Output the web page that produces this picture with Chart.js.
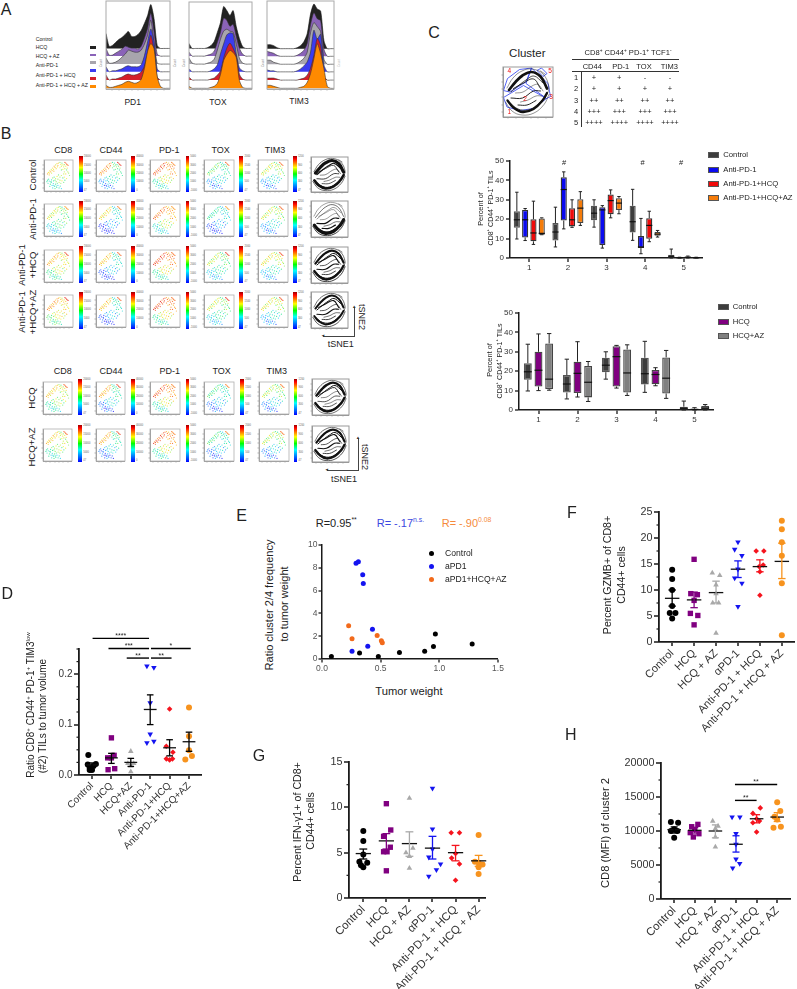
<!DOCTYPE html>
<html>
<head>
<meta charset="utf-8">
<style>
  html, body { margin: 0; padding: 0; background: #fff; }
  #page { position: relative; width: 797px; height: 989px; overflow: hidden; font-family: "Liberation Sans", Arial, sans-serif; color: #222; }
  #page canvas { position: absolute; }
  .t { position: absolute; white-space: nowrap; line-height: 1; }
  .t sup { font-size: 62%; line-height: 0; }
  .bar { position: absolute; background: linear-gradient(to top, #00f 0%, #0ff 33%, #0f0 50%, #ff0 68%, #f00 92%, #900 100%); }
  .ln { position: absolute; background: #333; }
</style>
<script src="https://cdn.jsdelivr.net/npm/chart.js@4"></script>
</head>
<body>
<div id="page"></div>
<script>
// panel A
const histLabels = ['Control', 'HCQ', 'HCQ + AZ', 'Anti-PD-1', 'Anti-PD-1 + HCQ', 'Anti-PD-1 + HCQ + AZ'];
const histColors = ['#222222', '#8a63b8', '#a8a5ad', '#3b3bf0', '#d4202a', '#ff8a00'];
const pd1Hist = [
  [15, 2, 3, 6, 9, 11, 14, 17, 12, 12, 14, 18, 25, 33, 44, 30, 3, 0, 0, 0, 0],
  [8, 1, 1, 3, 5, 7, 10, 9, 8, 8, 7, 10, 18, 28, 43, 25, 2, 0, 0, 0, 0],
  [6, 1, 1, 2, 4, 7, 10, 14, 13, 12, 12, 14, 20, 29, 44, 21, 1, 0, 0, 0, 0],
  [5, 0, 1, 1, 2, 3, 5, 6, 5, 5, 5, 7, 16, 30, 43, 30, 3, 0, 0, 0, 0],
  [5, 0, 1, 1, 2, 3, 5, 6, 5, 5, 6, 8, 14, 28, 45, 30, 3, 0, 0, 0, 0],
  [3, 1, 1, 2, 3, 4, 6, 7, 6, 5, 6, 9, 20, 37, 45, 40, 12, 2, 0, 0, 0]
];
const toxHist = [
  [5, 0, 0, 0, 0, 0, 1, 3, 7, 16, 26, 42, 38, 33, 38, 22, 10, 2, 0, 0, 0],
  [4, 0, 0, 0, 0, 0, 1, 2, 5, 14, 24, 38, 36, 30, 32, 20, 8, 2, 0, 0, 0],
  [6, 1, 0, 0, 0, 0, 1, 2, 5, 14, 25, 33, 35, 33, 32, 20, 6, 1, 0, 0, 0],
  [3, 0, 0, 0, 0, 0, 0, 1, 3, 7, 18, 28, 37, 39, 38, 18, 4, 1, 0, 0, 0],
  [3, 0, 0, 0, 0, 0, 0, 1, 2, 5, 9, 22, 32, 37, 32, 24, 6, 1, 0, 0, 0],
  [2, 0, 0, 0, 0, 0, 0, 1, 2, 5, 14, 28, 34, 38, 36, 31, 8, 1, 0, 0, 0]
];
const tim3Hist = [
  [4, 4, 3, 1, 0, 0, 0, 0, 0, 1, 3, 7, 15, 35, 45, 40, 38, 8, 0, 0, 0],
  [5, 4, 3, 1, 0, 0, 0, 0, 0, 1, 3, 6, 13, 32, 44, 38, 36, 7, 0, 0, 0],
  [4, 4, 2, 1, 0, 0, 0, 0, 0, 1, 3, 6, 12, 32, 42, 38, 33, 5, 0, 0, 0],
  [2, 1, 1, 0, 0, 0, 0, 0, 0, 1, 3, 6, 10, 20, 42, 33, 38, 7, 0, 0, 0],
  [2, 2, 2, 1, 0, 0, 0, 0, 0, 0, 1, 2, 5, 12, 25, 42, 35, 4, 0, 0, 0],
  [3, 3, 2, 1, 0, 0, 0, 0, 0, 0, 1, 2, 6, 15, 30, 45, 35, 20, 2, 0, 0]
];

// panel B, one row per dot: map coordinates, cluster and a per dot shade
const tsneX = [12,15,18,20,23,25,28,30,33,35,38,40,42,45,46,48,18,26,34,50, 55,58,60,62,65,68,70,72,75,78,80,82,85,65,60,70,75,55,88,68, 72,75,78,80,83, 30,35,40,45,50,55,60,65,70,48,38,55,62,72,42,52,68,78,58,33, 10,14,18,22,25,28,12,32,36,40,44,48,52,20,30,38,56,60,16,26,34,46,24,42];
const tsneY = [55,60,58,65,62,70,66,74,70,80,76,84,72,88,78,82,52,58,64,90, 92,86,80,90,84,78,85,72,80,68,74,62,58,70,68,62,55,75,50,55, 92,90,87,85,83, 42,45,40,47,52,45,50,42,45,38,35,35,33,35,30,28,28,40,25,33, 30,25,32,22,28,18,35,24,15,22,12,18,10,15,10,8,16,8,38,36,18,25,30,16];
const tsneCluster = [4,4,4,4,4,4,4,4,4,4,4,4,4,4,4,4,4,4,4,4, 3,3,3,3,3,3,3,3,3,3,3,3,3,3,3,3,3,3,3,3, 5,5,5,5,5, 2,2,2,2,2,2,2,2,2,2,2,2,2,2,2,2,2,2,2,2, 1,1,1,1,1,1,1,1,1,1,1,1,1,1,1,1,1,1,1,1,1,1,1,1];
const tsneShade = [2,-1,1,0,2,-2,1,0,-1,2,1,-2,0,1,-1,2,0,-2,1,0, -1,2,0,-2,1,2,-1,0,1,-2,2,0,-1,1,-2,0,2,1,-1,0, 1,0,2,-1,1, 0,-2,1,2,-1,0,1,-2,2,0,-1,1,2,-2,0,1,-1,2,0,-2, 1,0,-1,2,0,-2,1,-1,0,2,1,-2,0,1,-1,2,0,-2,1,0,-1,2,1,0];
const markerNames = ['CD8', 'CD44', 'PD-1', 'TOX', 'TIM3'];
const markerLevels = [
  [0.32, 0.50, 0.55, 0.66, 0.85],
  [0.12, 0.30, 0.42, 0.78, 0.95],
  [0.32, 0.58, 0.78, 0.88, 0.80],
  [0.12, 0.26, 0.36, 0.45, 0.85],
  [0.12, 0.26, 0.50, 0.55, 0.85]
];
const rowShift = [
  [0, 0, 0, 0, 0],
  [-0.10, -0.15, -0.05, -0.10, 0],
  [0.05, -0.10, 0.03, 0.08, 0.05],
  [0.10, -0.10, 0.03, 0.10, 0.03],
  [0, -0.05, 0, -0.05, -0.03],
  [0, -0.05, 0, -0.05, -0.03]
];
const barTicks = [
  ['20000', '15000', '10000', '5000', '47'],
  ['40000', '30000', '20000', '10000', '0'],
  ['5000', '3000', '2000', '1000', '-1000'],
  ['2000', '1500', '1000', '500', '47'],
  ['1200', '900', '600', '300', '47']
];
const contourPaths = [
  [[12,54],[25,70],[39,83],[57,90],[75,81],[88,57]],
  [[21,57],[39,67],[61,76],[75,57]],
  [[9,33],[21,19],[39,10],[61,16],[79,33],[88,48]],
  [[16,38],[39,38],[61,52],[75,52]],
  [[30,24],[48,24],[66,33]],
  [[75,92],[84,86]],
  [[8,58],[20,78],[38,92],[58,96],[80,86],[92,60],[88,45]],
  [[5,30],[18,12],[38,4],[62,8],[82,25],[92,45]],
  [[25,48],[40,50],[58,62],[70,65],[80,52]],
  [[35,30],[50,34],[66,42],[78,42]],
  [[16,50],[30,62],[46,74],[62,82],[80,68]],
  [[14,28],[30,16],[50,14],[68,24],[84,40]]
];
const contourWidths = [
  [3.2, 0.8, 2.6, 0.8, 0.7, 0.5, 0.6, 0.6, 0.5, 0.5, 1.2, 1],
  [0.6, 0.4, 3.2, 1.2, 1.2, 0.4, 0.4, 0.8, 0.4, 0.6, 0.4, 1.6],
  [2.2, 1.1, 2.4, 1.1, 0.8, 0.5, 0.6, 0.8, 0.7, 0.6, 1, 1],
  [2, 1.1, 2, 1.1, 0.8, 0.5, 0.6, 0.7, 0.7, 0.6, 1, 1],
  [2.4, 0.9, 2.4, 0.7, 0.7, 0.4, 0.6, 0.6, 0.5, 0.5, 1, 0.9],
  [2.2, 1.1, 2.4, 1.1, 0.8, 0.5, 0.6, 0.7, 0.7, 0.6, 1, 1]
];

// panel C
const gatePaths = [
  [[1,53],[9,77],[33,95],[57,98],[46,70],[13,50],[1,53]],
  [[57,98],[90,67],[95,41],[87,37],[46,67],[57,98]],
  [[1,39],[41,63],[87,37],[61,17],[34,13],[8,20],[1,39]],
  [[68,93],[77,98],[88,87],[80,81],[68,93]]
];
const tableCols = ['CD44', 'PD-1', 'TOX', 'TIM3'];
const tableRows = [
  ['+', '+', '-', '-'],
  ['+', '+', '+', '+'],
  ['++', '++', '++', '++'],
  ['+++', '+++', '+++', '+++'],
  ['++++', '++++', '++++', '++++']
];

// box plots, each box is min, q1, median, q3, max
const clusterLabels = ['1', '2', '3', '4', '5'];
const boxControl = [[9.8,15.6,19.7,24.1,33.9],[5.7,9,13.4,18,26.2],[15.9,19.5,23.1,26.9,30],[9.1,13.2,18.7,26.9,35.4],[0,0.3,0.9,1.7,4.6]];
const boxAntiPd1 = [[9,10.6,19.7,24.8,25.5],[15,19.3,35.3,41.6,44.4],[5.1,6.7,24.8,26.2,27],[2.2,5.1,5.7,11.3,20.4],[0,0,0.1,0.3,0.4]];
const boxAntiHcq = [[7,8.6,12.9,20,29.3],[15.8,16.3,19.7,25.7,30],[20.7,22.6,29.6,32.7,35.1],[8.4,9.9,16.8,20.5,24.1],[0,0.1,0.4,0.7,1]];
const boxAntiHcqAz = [[12,12,12.7,20.4,20.7],[16.8,18,25.7,30.3,34.2],[22.8,24.7,28.3,30.8,31.7],[10.8,11.5,12.3,13.4,14.2],[0,0,0.1,0.3,0.4]];
const boxHcq = [[10,12.1,20.5,30,39.2],[6.7,8.7,18.9,24.9,35.2],[11.3,12.1,27.5,32.9,33.3],[12.5,13.3,18.3,20.6,21.8],[0,0.1,0.3,0.7,1.2]];
const boxHcqAz = [[10.2,10.8,15.9,34.3,39.4],[4.4,6.5,14.3,22.7,25],[7.5,9,19.1,31.2,33.6],[6,8.5,16.4,27.1,30.7],[0,0.3,1,2.1,2.8]];

// panel E
const ctrlWeight = [0.08,0.32,0.48,0.66,0.875,0.95,0.966,1.28];
const ctrlRatio = [0.23,0.52,0.23,0.58,0.67,1.1,2.19,1.31];
const apd1Weight = [0.29,0.31,0.347,0.352,0.43,0.39,0.256];
const apd1Ratio = [8.4,8.54,7.4,6.62,2.62,1.11,0.67];
const comboWeight = [0.227,0.256,0.47,0.506,0.514];
const comboRatio = [2.92,1.78,2.07,1.6,1.43];

// dot plots D, F, G, H
const dCats = ['Control', 'HCQ', 'HCQ+AZ', 'Anti-PD-1', 'Anti-PD-1+HCQ', 'Anti-PD-1+HCQ+AZ'];
const dotCats = ['Control', 'HCQ', 'HCQ + AZ', 'αPD-1', 'Anti-PD-1 + HCQ', 'Anti-PD-1 + HCQ + AZ'];
const dValues = [[0.0395,0.022,0.021,0.018,0.0145,0.01,0.01],[0.0737,0.039,0.034,0.034,0.0125,0.0105],[0.047,0.023,0.023,0.018,0.0066],[0.216,0.213,0.143,0.081,0.067,0.064],[0.131,0.057,0.045,0.032,0.03,0.032],[0.134,0.077,0.049,0.0375,0.031]];
const dSpread = [[-0.19,0.2,-0.22,0.08,-0.12,0,-0.12],[0,0.14,-0.19,0,0.17,-0.17],[0,-0.15,0.15,0,0],[-0.17,0.19,0,0,0.19,-0.17],[0,-0.17,0.17,-0.17,0,0.15],[0,0,0,0.15,-0.19]];
const dMean = [0.02,0.034,0.025,0.13,0.054,0.066];
const dLow = [0.016,0.023,0.017,0.1,0.038,0.047];
const dHigh = [0.024,0.043,0.033,0.159,0.07,0.085];
const fValues = [[13.9,12.1,10,6.9,5.6,5.6,4.5],[15.9,9.3,9.1,8,5.5,5.1,3.3],[13.3,12.8,11,9.3,7.5,7.5,1.7],[19.2,17.8,16.6,14,12.3,11.3,6.8],[17.5,17.5,14.8,14.5,13.5,9],[23.3,21.7,19.2,16.6,11.3,1.3]];
const fSpread = [[0,0,0,0,-0.11,0.15,0],[0,-0.15,0.15,0,-0.17,0.17,0],[-0.17,0.17,0,0,-0.15,0.12,0],[0,-0.15,0.18,0,-0.15,0.18,0],[-0.17,0.18,0.15,-0.03,0,0],[0,0,0,0,0,0]];
const fMean = [8.4,8.1,9.5,14,14.5,15.5];
const fLow = [6.9,6.6,7.5,12.4,13.5,12.2];
const fHigh = [10,9.6,11.7,15.6,15.8,19];
const gValues = [[7.4,6.3,4.8,4,3.9,3.6,3.4],[10.4,7.5,6.8,5.6,5.1,5.1,3],[11,5.5,5,4.6,3.3],[12.1,7.6,5.4,4.5,3.75,3.1,2.4],[7.2,7.2,4.9,4.4,3.75,1.95],[6.95,4,3.9,3.7,3.4,2.65]];
const gSpread = [[0,0,0,-0.17,0.17,-0.1,0],[0,0.19,-0.12,0.17,-0.12,0.03,0],[0,0.15,-0.15,0,0],[0,0,0,-0.16,0.35,0.17,-0.16],[-0.19,0.17,0,-0.17,0.17,0],[0,-0.16,0,0.17,0,0]];
const gMean = [4.9,6.3,6,5.5,5,4.1];
const gLow = [4.3,5.4,4.6,4.3,4.1,3.5];
const gHigh = [5.4,7.1,7.3,6.8,5.8,4.7];
const hValues = [[11320,11220,10240,10000,10000,9020],[10975,10630,10240,9760,9600,9120],[11460,10730,10340,9120,7660],[12050,12050,9600,8050,5850,5220,4540],[13400,12590,11800,11460,11220,9850],[14240,12930,12100,11700,10490,10630]];
const hSpread = [[-0.16,0.19,0,-0.16,0.16,0],[0.15,-0.15,0,-0.22,0.2,-0.07],[-0.13,0.13,0,0,0],[-0.19,0.19,0,0,0,0.18,-0.16],[0.18,-0.18,0,0.14,-0.18,0],[0,0.15,-0.13,0,-0.18,0.18]];
const hMean = [10200,10100,10000,8050,11800,12050];
const hLow = [9700,9700,9000,6900,11200,11400];
const hHigh = [10600,10500,10900,9300,12400,12700];
const dSig = [[0.03,2.94,0.271,'****'],[0.85,2.94,0.251,'***'],[3.04,5.09,0.251,'*'],[1.79,2.94,0.232,'**'],[3.04,4.1,0.232,'**']];
const hSig = [[2.95,5,16830,'**'],[2.95,4,14500,'**']];

const page = document.getElementById('page');
const ink = '#1a1a1a';
const dotColors = ['#000000', '#800080', '#a9a9a9', '#1414f0', '#f5141e', '#f7931e'];
const dotStyles = [
  { pointStyle: 'circle', radius: 3 },
  { pointStyle: 'rect', radius: 3.8 },
  { pointStyle: 'triangle', radius: 3.2 },
  { pointStyle: 'triangle', radius: 3.2, rotation: 180 },
  { pointStyle: 'rectRot', radius: 2.8 },
  { pointStyle: 'circle', radius: 3 }
];

function txt(html, x, y, size, opts = {}) {
  const d = document.createElement('div');
  d.className = 't';
  d.innerHTML = html;
  d.style.left = x + 'px';
  d.style.top = y + 'px';
  d.style.fontSize = size + 'px';
  if (opts.color) d.style.color = opts.color;
  const ax = opts.left ? '0' : '-50%';
  d.style.transform = `translate(${ax},-50%) rotate(${opts.rot || 0}deg)`;
  page.appendChild(d);
}

function rule(x, y, w, h, color) {
  const d = document.createElement('div');
  d.className = 'ln';
  d.style.cssText = `left:${x}px;top:${y}px;width:${w}px;height:${h}px;` + (color ? `background:${color}` : '');
  page.appendChild(d);
}

function swatch(x, y, w, h, fill, border) {
  const d = document.createElement('div');
  d.className = 'ln';
  d.style.cssText = `left:${x}px;top:${y}px;width:${w}px;height:${h}px;background:${fill};box-sizing:border-box;border:1px solid ${border || fill}`;
  page.appendChild(d);
}

// extra drawing on top of a chart: minor ticks, significance bars, box whiskers, frame
function extras(o) {
  return {
    id: 'extras',
    afterDatasetsDraw(chart) {
      const ctx = chart.ctx, xs = chart.scales.x, ys = chart.scales.y;
      ctx.save();
      if (o.frame) {
        const a = chart.chartArea;
        ctx.strokeStyle = o.frame;
        ctx.lineWidth = o.frameWidth || 1;
        ctx.strokeRect(a.left, a.top, a.right - a.left, a.bottom - a.top);
      }
      if (o.minor) {
        ctx.strokeStyle = ink;
        ctx.lineWidth = 1.2;
        o.minor.forEach(v => {
          const p = ys.getPixelForValue(v);
          ctx.beginPath();
          ctx.moveTo(xs.left - 2.5, p);
          ctx.lineTo(xs.left, p);
          ctx.stroke();
        });
      }
      if (o.sig) {
        o.sig.forEach(s => {
          const a = xs.getPixelForValue(s[0]), b = xs.getPixelForValue(s[1]), p = ys.getPixelForValue(s[2]);
          ctx.strokeStyle = '#000';
          ctx.lineWidth = 1.4;
          ctx.beginPath();
          ctx.moveTo(a, p);
          ctx.lineTo(b, p);
          ctx.stroke();
          ctx.fillStyle = '#222';
          ctx.font = '7px "Liberation Sans"';
          ctx.textAlign = 'center';
          ctx.fillText(s[3], (a + b) / 2, p - 0.5);
        });
      }
      if (o.boxes) {
        chart.data.datasets.forEach((ds, i) => {
          chart.getDatasetMeta(i).data.forEach((el, j) => {
            const st = ds.stats[j];
            const hw = el.width / 2, cap = hw * 0.55;
            ctx.strokeStyle = '#222';
            ctx.lineWidth = 1;
            ctx.beginPath();
            [[st[0], st[1]], [st[3], st[4]]].forEach(pair => {
              const p0 = ys.getPixelForValue(pair[0]), p1 = ys.getPixelForValue(pair[1]);
              ctx.moveTo(el.x, p0);
              ctx.lineTo(el.x, p1);
            });
            [st[0], st[4]].forEach(v => {
              const p = ys.getPixelForValue(v);
              ctx.moveTo(el.x - cap, p);
              ctx.lineTo(el.x + cap, p);
            });
            ctx.stroke();
            ctx.lineWidth = 1.2;
            ctx.strokeStyle = '#111';
            const m = ys.getPixelForValue(st[2]);
            ctx.beginPath();
            ctx.moveTo(el.x - hw, m);
            ctx.lineTo(el.x + hw, m);
            ctx.stroke();
          });
        });
      }
      ctx.restore();
    }
  };
}

// canvas sized so that the plot area lands exactly on the box x0,y0,x1,y1
function makeChart(box, pad, config, extra) {
  const [x0, y0, x1, y1] = box;
  const c = document.createElement('canvas');
  c.width = x1 - x0 + pad.l + pad.r;
  c.height = y1 - y0 + pad.t + pad.b;
  c.style.left = (x0 - pad.l) + 'px';
  c.style.top = (y0 - pad.t) + 'px';
  page.appendChild(c);
  config.options = config.options || {};
  const opt = config.options;
  opt.responsive = false;
  opt.animation = false;
  opt.layout = { padding: { top: pad.t, right: pad.r, left: 0, bottom: 0 } };
  opt.plugins = Object.assign({ legend: { display: false }, tooltip: { enabled: false } }, opt.plugins || {});
  const xa = opt.scales.x, ya = opt.scales.y;
  xa.afterFit = s => { s.height = pad.b; s.paddingLeft = s.paddingRight = 0; };
  ya.afterFit = s => { s.width = pad.l; s.paddingTop = s.paddingBottom = 0; };
  config.plugins = [extras(extra || {})];
  return new Chart(c.getContext('2d'), config);
}

function ticksAt(values) {
  return s => { s.ticks = values.map(v => ({ value: v })); };
}

// thin grey axes used by the histogram and map panels
function thinAxis(min, max, values, color) {
  return {
    type: 'linear', min, max,
    afterBuildTicks: ticksAt(values),
    ticks: { display: false },
    border: { color: color, width: 1 },
    grid: { drawOnChartArea: false, tickLength: 1.5, tickWidth: 0.6, tickColor: '#777', lineWidth: 0 }
  };
}

// panel A
const binPos = pd1Hist[0].map((_, i) => i);
const ridgeBase = [40.7, 33, 25, 17.3, 9, 0.7];
function ridgeChart(box, hist) {
  const datasets = hist.map((vals, i) => ({
    data: vals.map((v, j) => ({ x: binPos[j], y: ridgeBase[i] + v })),
    showLine: true,
    pointRadius: 0,
    tension: 0.25,
    borderColor: i === 0 ? '#111' : '#333',
    borderWidth: 0.6,
    backgroundColor: histColors[i],
    fill: { value: ridgeBase[i] },
    order: hist.length - i
  }));
  makeChart(box, { l: 1, r: 1, t: 1, b: 3 }, {
    type: 'scatter',
    data: { datasets },
    options: { scales: {
      x: thinAxis(0, 20, [2, 4, 6, 8, 10, 12, 14, 16, 18], '#aaa'),
      y: { type: 'linear', min: 0, max: box[3] - box[1], display: false }
    } }
  }, { frame: '#aaa', frameWidth: 1 });
}
ridgeChart([105.7, 1, 170.7, 89.3], pd1Hist);
ridgeChart([189, 2, 252.3, 89.3], toxHist);
ridgeChart([267.3, 0.5, 334.7, 89.3], tim3Hist);

const histLabelY = [40, 48.3, 56.7, 65.7, 76, 86];
const histSwatchY = [47.3, 55, 62.7, 70.7, 78.3, 86.7];
histLabels.forEach((name, i) => {
  txt(name, 35.7, histLabelY[i], 5.2, { left: true });
  swatch(90, histSwatchY[i] - 1.3, 6, 2.8, histColors[i]);
});
txt('Count', 100.5, 63, 3, { rot: -90, color: '#888' });
txt('Count', 175, 63, 3, { rot: -90, color: '#888' });
txt('Count', 184, 63, 3, { rot: -90, color: '#888' });
txt('Count', 262.5, 63, 3, { rot: -90, color: '#888' });
txt('Count', 339, 63, 3, { rot: -90, color: '#bbb' });
txt('PD1', 132.7, 101.7, 8.5);
txt('TOX', 218, 102, 8.5);
txt('TIM3', 299, 100.7, 8.5);

// panel B
function jet(v) {
  const t = Math.max(0, Math.min(1, v));
  const stops = [[0, 0, 255], [0, 200, 255], [0, 230, 120], [240, 240, 0], [255, 130, 0], [225, 0, 0]];
  const p = t * (stops.length - 1), i = Math.min(stops.length - 2, Math.floor(p)), f = p - i;
  const c = stops[i].map((a, k) => Math.round(a + (stops[i + 1][k] - a) * f));
  return `rgba(${c[0]},${c[1]},${c[2]},0.7)`;
}

const mapTicks = [10, 25, 40, 55, 70, 85];
function mapAxes() {
  return {
    x: thinAxis(0, 100, mapTicks, '#999'),
    y: thinAxis(0, 100, mapTicks, '#999')
  };
}

function mapPanel(box, row, marker) {
  const levels = markerLevels[marker];
  const colors = tsneX.map((_, i) => jet(levels[tsneCluster[i] - 1] + rowShift[row][marker] + tsneShade[i] * 0.05));
  makeChart(box, { l: 2, r: 1, t: 1, b: 3 }, {
    type: 'scatter',
    data: { datasets: [{
      data: tsneX.map((x, i) => ({ x, y: tsneY[i] })),
      pointRadius: 0.62,
      pointBorderWidth: 0,
      pointBackgroundColor: colors
    }] },
    options: { scales: mapAxes() }
  }, { frame: '#b0b0b0', frameWidth: 0.8 });
}

function contourDatasets(widths, scaleW) {
  return contourPaths.map((path, k) => ({
    data: path.map(p => ({ x: p[0], y: p[1] })),
    showLine: true,
    pointRadius: 0,
    tension: 0.4,
    borderColor: '#111',
    borderWidth: widths[k] * scaleW,
    borderCapStyle: 'round'
  }));
}

function contourPanel(box, row) {
  makeChart(box, { l: 2, r: 1, t: 1, b: 3 }, {
    type: 'scatter',
    data: { datasets: contourDatasets(contourWidths[row], 1) },
    options: { scales: mapAxes() }
  }, { frame: '#999', frameWidth: 1 });
}

function colorBar(x0, x1, y0, y1, marker) {
  const d = document.createElement('div');
  d.className = 'bar';
  d.style.cssText = `left:${x0}px;top:${y0}px;width:${x1 - x0}px;height:${y1 - y0}px`;
  page.appendChild(d);
  barTicks[marker].forEach((lab, i) => {
    txt(lab, x1 + 1.2, y0 + 1 + (y1 - y0 - 2) * i / 4, 2.6, { left: true, color: '#666' });
  });
}

const upperCols = [[41.7, 76], [94.3, 129.3], [147.7, 182.7], [201.7, 237.3], [256, 291]];
const upperBars = [[78.5, 82.5], [131, 135], [185.7, 189], [239.3, 243.3], [293.3, 296.7]];
const upperRows = [[156.7, 191.7], [201, 237.3], [246.7, 283.3], [292.3, 329]];
const lowerCols = [[40.7, 75], [94, 128.7], [148.3, 183.3], [202.3, 237.3], [256.7, 291.7]];
const lowerBars = [[77.7, 82], [130.7, 134.7], [185.7, 189], [240, 244], [293.7, 297.3]];
const lowerRows = [[379, 415], [425.7, 462.3]];

upperRows.forEach((r, row) => {
  upperCols.forEach((c, m) => {
    mapPanel([c[0], r[0], c[1], r[1]], row, m);
    colorBar(upperBars[m][0], upperBars[m][1], r[0] - 0.5, r[1], m);
  });
  contourPanel([310.7, r[0], 347.7, r[1]], row);
});
lowerRows.forEach((r, row) => {
  lowerCols.forEach((c, m) => {
    mapPanel([c[0], r[0], c[1], r[1]], row + 4, m);
    colorBar(lowerBars[m][0], lowerBars[m][1], r[0] - 0.5, r[1], m);
  });
  contourPanel([312, r[0], 349, r[1]], row + 4);
});

[63.3, 111, 169.3, 220.7, 275].forEach((x, i) => txt(markerNames[i], x, 150, 9));
[62.7, 111, 169.7, 221.7, 276.7].forEach((x, i) => txt(markerNames[i], x, 371, 9));
txt('Control', 33.3, 175, 9.6, { rot: -90 });
txt('Anti-PD-1', 33.3, 219.3, 9.6, { rot: -90 });
txt('Anti-PD-1', 22.3, 265, 9.6, { rot: -90 });
txt('+HCQ', 33.3, 265, 9.6, { rot: -90 });
txt('Anti-PD-1', 22.3, 311.7, 9.6, { rot: -90 });
txt('+HCQ+AZ', 33.3, 311.7, 9.6, { rot: -90 });
txt('HCQ', 32, 397.7, 9.6, { rot: -90 });
txt('HCQ+AZ', 32, 446.7, 9.6, { rot: -90 });

function tsneArrows(cx, cy, left, up) {
  rule(left, cy, cx - left, 0.8, '#444');
  rule(cx, up, 0.8, cy - up + 0.8, '#444');
  txt('◄', left, cy + 0.2, 4.5, { color: '#333' });
  txt('▲', cx + 0.3, up, 4.5, { color: '#333' });
}
tsneArrows(354, 336, 323, 306.7);
txt('tSNE1', 340.7, 344.3, 9);
txt('tSNE2', 360.7, 316.7, 9, { rot: 90 });
tsneArrows(357.7, 470, 326.7, 438.3);
txt('tSNE1', 344, 479, 9);
txt('tSNE2', 364, 456.7, 9, { rot: 90 });

// panel C
txt('Cluster', 527.3, 54.3, 11.5);
makeChart([502.7, 66.7, 553.3, 116.7], { l: 3, r: 1, t: 1, b: 3 }, {
  type: 'scatter',
  data: { datasets: contourDatasets([3, 1, 2.6, 1, 1, 0.5, 0.5, 0.5, 0.5, 0.5, 0.8, 0.8], 0.9).concat(gatePaths.map(path => ({
    data: path.map(p => ({ x: p[0], y: p[1] })),
    showLine: true,
    pointRadius: 0,
    borderColor: '#2a3cf0',
    borderWidth: 0.8
  }))) },
  options: { scales: mapAxes() }
}, { frame: '#999', frameWidth: 1 });
const gateNames = [['4', 509.3, 70.7], ['5', 550, 70.7], ['2', 525, 99.3], ['3', 551, 97.3], ['1', 509.3, 111.7]];
gateNames.forEach(g => txt(g[0], g[1], g[2], 6.5, { color: '#f01010' }));

txt('CD8<sup>+</sup> CD44<sup>+</sup> PD-1<sup>+</sup> TCF1<sup>-</sup>', 628, 52.7, 7.6);
rule(571.7, 59, 107.6, 0.9);
rule(571.7, 71.3, 107.6, 1);
rule(581, 71.7, 0.9, 55);
const tableColX = [592.3, 620.7, 644, 669.3];
const tableCellX = [594, 619.3, 645, 670];
const tableRowY = [78.3, 88.7, 101, 111.7, 122.7];
tableCols.forEach((name, i) => txt(name, tableColX[i], 66.7, 7.5));
tableRows.forEach((cells, r) => {
  txt(String(r + 1), 576, tableRowY[r], 7.5);
  cells.forEach((mark, c) => txt(mark, tableCellX[c], tableRowY[r], 7.5));
});

// box plots
function boxChart(box, series) {
  const datasets = series.map(s => ({
    data: s.stats.map(st => [st[1], st[3]]),
    stats: s.stats,
    backgroundColor: s.fill,
    borderColor: s.edge,
    borderWidth: 1.3,
    borderSkipped: false,
    categoryPercentage: s.cat,
    barPercentage: 0.74
  }));
  makeChart(box, { l: 25, r: 4, t: 4, b: 18 }, {
    type: 'bar',
    data: { labels: clusterLabels, datasets },
    options: { scales: {
      x: {
        type: 'category',
        ticks: { font: { size: 8, family: 'Liberation Sans' }, color: '#333', padding: 1, maxRotation: 0 },
        border: { color: ink, width: 1.5 },
        grid: { drawOnChartArea: false, tickLength: 4, tickWidth: 1.3, tickColor: ink, lineWidth: 0, offset: false }
      },
      y: {
        type: 'linear', min: 0, max: 50,
        afterBuildTicks: ticksAt([0, 10, 20, 30, 40, 50]),
        ticks: { font: { size: 8, family: 'Liberation Sans' }, color: '#333', padding: 2 },
        border: { color: ink, width: 1.5 },
        grid: { drawOnChartArea: false, tickLength: 4, tickWidth: 1.3, tickColor: ink, lineWidth: 0 }
      }
    } }
  }, { boxes: true });
}

const fillControl = '#3d3d3d', edgeControl = '#555555';
boxChart([510, 161, 703.6, 258.3], [
  { stats: boxControl, fill: fillControl, edge: edgeControl, cat: 0.86 },
  { stats: boxAntiPd1, fill: '#0a0af0', edge: '#333', cat: 0.86 },
  { stats: boxAntiHcq, fill: '#f00a0a', edge: '#333', cat: 0.86 },
  { stats: boxAntiHcqAz, fill: '#f57c0a', edge: '#444', cat: 0.86 }
]);
boxChart([519, 312.7, 714.2, 410.3], [
  { stats: boxControl, fill: fillControl, edge: edgeControl, cat: 0.82 },
  { stats: boxHcq, fill: '#800080', edge: '#444', cat: 0.82 },
  { stats: boxHcqAz, fill: '#808080', edge: '#444', cat: 0.82 }
]);
[564, 642.7, 681].forEach(x => txt('#', x, 163.3, 7.5));

const legend1 = [['Control', fillControl, 155], ['Anti-PD-1', '#0a0af0', 170.3], ['Anti-PD-1+HCQ', '#f00a0a', 184], ['Anti-PD-1+HCQ+AZ', '#f57c0a', 197.7]];
legend1.forEach(l => {
  swatch(708.3, l[2] - 3.2, 11, 6.4, l[1], '#555');
  txt(l[0], 723.3, l[2], 7.7, { left: true });
});
const legend2 = [['Control', fillControl, 306.7], ['HCQ', '#800080', 321.7], ['HCQ+AZ', '#808080', 336]];
legend2.forEach(l => {
  swatch(717.7, l[2] - 3.2, 11, 6.4, l[1], '#555');
  txt(l[0], 732.7, l[2], 7.7, { left: true });
});
const tilsTitle = 'CD8<sup>+</sup> CD44<sup>+</sup> PD-1<sup>+</sup> TILs';
txt('Percent of', 480.7, 209, 7.4, { rot: -90 });
txt(tilsTitle, 490, 208, 7, { rot: -90 });
txt('Percent of', 490, 360, 7.4, { rot: -90 });
txt(tilsTitle, 499.3, 361, 7, { rot: -90 });

// panel E
const scatterFont = { size: 8.5, family: 'Liberation Sans' };
function eSeries(xs, ys, color) {
  return { data: xs.map((x, i) => ({ x, y: ys[i] })), pointRadius: 2.5, pointBorderWidth: 0, pointBackgroundColor: color, clip: false };
}
makeChart([322.3, 545, 498.3, 659.3], { l: 25, r: 8, t: 4, b: 16 }, {
  type: 'scatter',
  data: { datasets: [
    eSeries(ctrlWeight, ctrlRatio, '#000000'),
    eSeries(apd1Weight, apd1Ratio, '#1414f0'),
    eSeries(comboWeight, comboRatio, '#f26a1b')
  ] },
  options: { scales: {
    x: {
      type: 'linear', min: 0, max: 1.5,
      afterBuildTicks: ticksAt([0, 0.5, 1, 1.5]),
      ticks: { font: scatterFont, color: '#555', padding: 1, maxRotation: 0, callback: v => v.toFixed(1) },
      border: { color: ink, width: 1.5 },
      grid: { drawOnChartArea: false, tickLength: 3.5, tickWidth: 1.3, tickColor: ink, lineWidth: 0 }
    },
    y: {
      type: 'linear', min: 0, max: 10,
      afterBuildTicks: ticksAt([0, 2, 4, 6, 8, 10]),
      ticks: { font: scatterFont, color: '#555', padding: 1 },
      border: { color: ink, width: 1.5 },
      grid: { drawOnChartArea: false, tickLength: 3.5, tickWidth: 1.3, tickColor: ink, lineWidth: 0 }
    }
  } }
});
txt('R=0.95<sup>**</sup>', 315.7, 523, 11, { left: true });
txt('R= -.17<sup>n.s.</sup>', 376.7, 523, 11, { left: true, color: '#3b48e0' });
txt('R= -.90<sup>0.08</sup>', 441.7, 522.5, 11, { left: true, color: '#f58a3c' });
txt('Ratio cluster 2/4 frequency', 269.3, 605, 11, { rot: -90 });
txt('to tumor weight', 284, 604, 11, { rot: -90 });
txt('Tumor weight', 409, 692.3, 11.2);
const eLegend = [['Control', '#000000', 553.3], ['aPD1', '#1414f0', 566], ['aPD1+HCQ+AZ', '#f26a1b', 579]];
eLegend.forEach(l => {
  const d = document.createElement('div');
  d.className = 'ln';
  d.style.cssText = `left:429.2px;top:${l[2] - 2.5}px;width:5px;height:5px;border-radius:50%;background:${l[1]}`;
  page.appendChild(d);
  txt(l[0], 445, l[2], 8.6, { left: true });
});

// dot plots with mean and SEM
const meanHalf = 0.33, capHalf = 0.17;
function dotChart(spec) {
  const datasets = [];
  spec.values.forEach((vals, i) => {
    const st = dotStyles[i];
    datasets.push({
      data: vals.map((v, k) => ({ x: i + spec.spread[i][k], y: v })),
      pointStyle: st.pointStyle,
      pointRadius: st.radius,
      pointRotation: st.rotation || 0,
      pointBackgroundColor: dotColors[i],
      pointBorderWidth: 0,
      order: 2,
      clip: false
    });
    const errColor = spec.blackError ? '#000' : dotColors[i];
    const seg = (pts, color) => datasets.push({
      data: pts.map(p => ({ x: p[0], y: p[1] })),
      showLine: true, pointRadius: 0, borderColor: color, borderWidth: 1.3, order: 1, clip: false
    });
    seg([[i, spec.low[i]], [i, spec.high[i]]], errColor);
    seg([[i - capHalf, spec.low[i]], [i + capHalf, spec.low[i]]], errColor);
    seg([[i - capHalf, spec.high[i]], [i + capHalf, spec.high[i]]], errColor);
    seg([[i - meanHalf, spec.mean[i]], [i + meanHalf, spec.mean[i]]], '#111');
  });
  const font = { size: spec.fontSize, family: 'Liberation Sans' };
  const yFont = { size: spec.yFontSize || spec.fontSize, family: 'Liberation Sans' };
  makeChart(spec.box, { l: 90, r: 6, t: 34, b: 92 }, {
    type: 'scatter',
    data: { datasets },
    options: { scales: {
      x: {
        type: 'linear', min: spec.xRange[0], max: spec.xRange[1],
        afterBuildTicks: ticksAt(spec.cats.map((_, i) => i)),
        ticks: { font, color: '#333', padding: 1, minRotation: 45, maxRotation: 45, autoSkip: false, callback: v => spec.cats[v] },
        border: { color: ink, width: 1.8 },
        grid: { drawOnChartArea: false, tickLength: 4, tickWidth: 1.5, tickColor: ink, lineWidth: 0 }
      },
      y: {
        type: 'linear', min: spec.yTicks[0], max: spec.yMax,
        afterBuildTicks: ticksAt(spec.yTicks),
        ticks: { font: yFont, color: '#333', padding: 1.5, callback: spec.yFormat },
        border: { color: ink, width: 1.8 },
        grid: { drawOnChartArea: false, tickLength: 5, tickWidth: 1.5, tickColor: ink, lineWidth: 0 }
      }
    } }
  }, { minor: spec.minor, sig: spec.sig });
}

dotChart({
  box: [78.7, 649, 202.3, 775.7], cats: dCats, values: dValues, spread: dSpread, mean: dMean, low: dLow, high: dHigh,
  blackError: true, xRange: [-0.67, 5.67], yMax: 0.25, yTicks: [0, 0.1, 0.2],
  yFormat: v => v.toFixed(1), minor: [0.025, 0.05, 0.075, 0.125, 0.15, 0.175, 0.225, 0.25], sig: dSig, fontSize: 10
});
dotChart({
  box: [659, 512.3, 795, 642.7], cats: dotCats, values: fValues, spread: fSpread, mean: fMean, low: fLow, high: fHigh,
  xRange: [-0.6, 5.6], yMax: 25, yTicks: [0, 5, 10, 15, 20, 25], yFormat: v => String(v),
  minor: [2.5, 7.5, 12.5, 17.5, 22.5], fontSize: 11, yFontSize: 10.8
});
dotChart({
  box: [349, 762.3, 486, 898.3], cats: dotCats, values: gValues, spread: gSpread, mean: gMean, low: gLow, high: gHigh,
  xRange: [-0.62, 5.32], yMax: 15, yTicks: [0, 5, 10, 15], yFormat: v => String(v),
  minor: [2.5, 7.5, 12.5], fontSize: 11.4, yFontSize: 10.8
});
dotChart({
  box: [661, 763.3, 791.7, 900], cats: dotCats, values: hValues, spread: hSpread, mean: hMean, low: hLow, high: hHigh,
  xRange: [-0.64, 5.67], yMax: 20000, yTicks: [0, 5000, 10000, 15000, 20000], yFormat: v => String(v),
  minor: [2500, 7500, 12500, 17500], sig: hSig, fontSize: 11.4, yFontSize: 10.8
});

txt('Ratio CD8<sup>+</sup> CD44<sup>+</sup> PD-1<sup>+</sup> TIM3<sup>low</sup>', 30.7, 705, 10, { rot: -90 });
txt('(#2) TILs to tumor volume', 43.3, 716, 10, { rot: -90 });
txt('Percent GZMB+ of CD8+', 606.7, 575, 10.6, { rot: -90 });
txt('CD44+ cells', 620.7, 575, 10.6, { rot: -90 });
txt('Percent IFN-γ1+ of CD8+', 297.3, 821.7, 10.6, { rot: -90 });
txt('CD44+ cells', 310, 821, 10.6, { rot: -90 });
txt('CD8 (MFI) of cluster 2', 606, 832.7, 11.2, { rot: -90 });

const panelLetters = [['A', 6, 10], ['B', 6, 134], ['C', 434, 33], ['D', 7.3, 594], ['E', 241.7, 516], ['F', 572, 512.7], ['G', 259, 755.7], ['H', 570.7, 735]];
panelLetters.forEach(p => txt(p[0], p[1], p[2], 16));
</script>
</body>
</html>
